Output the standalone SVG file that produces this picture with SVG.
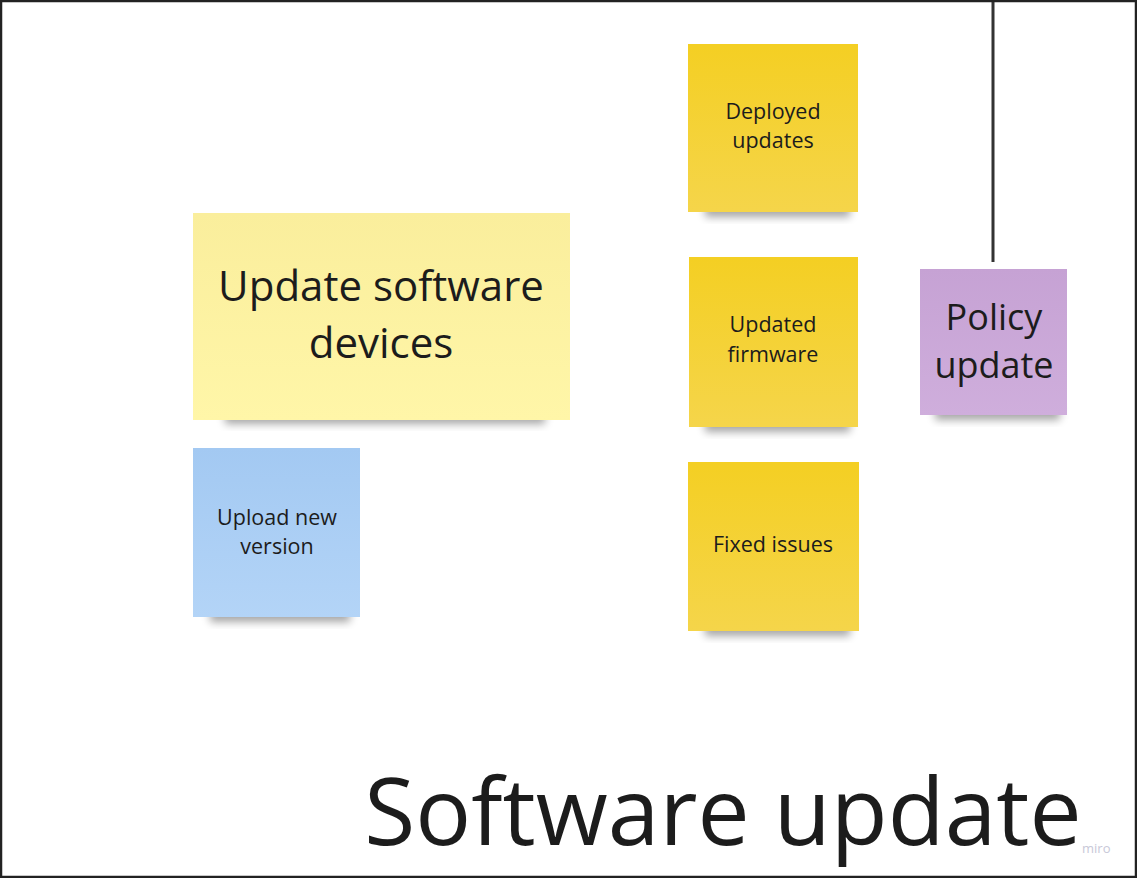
<svg xmlns="http://www.w3.org/2000/svg" width="1137" height="878" viewBox="0 0 1137 878">
<defs>
<filter id="sh" x="-20%" y="-50%" width="140%" height="200%"><feGaussianBlur stdDeviation="4"/></filter>
<linearGradient id="gy" x1="0" y1="0" x2="0" y2="1"><stop offset="0" stop-color="#F4CF23"/><stop offset="1" stop-color="#F5D54A"/></linearGradient>
<linearGradient id="gl" x1="0" y1="0" x2="0" y2="1"><stop offset="0" stop-color="#FAEE9C"/><stop offset="1" stop-color="#FFF6A8"/></linearGradient>
<linearGradient id="gb" x1="0" y1="0" x2="0" y2="1"><stop offset="0" stop-color="#A3C9F2"/><stop offset="1" stop-color="#B3D4F7"/></linearGradient>
<linearGradient id="gp" x1="0" y1="0" x2="0" y2="1"><stop offset="0" stop-color="#C6A2D4"/><stop offset="1" stop-color="#CFAEDC"/></linearGradient>
</defs>
<style>
.t{font-family:"Open Sans","Noto Sans","Liberation Sans",sans-serif;fill:#1c1c1c;text-anchor:middle}
.s{font-size:21.5px}
.shadow{fill:#000;opacity:0.35;filter:url(#sh)}
</style>
<rect x="0" y="0" width="1137" height="878" fill="#fff"/>
<g id="connectors">
<line x1="993" y1="0" x2="993" y2="262" stroke="#333" stroke-width="3"/>
</g>
<g id="n-update-software">
<rect class="shadow" x="225" y="410" width="320" height="14"/>
<rect x="193" y="213" width="377" height="207" fill="url(#gl)"/>
<text class="t" font-size="42" x="381" y="301">Update software</text>
<text class="t" font-size="42" x="381" y="358">devices</text>
</g>
<g id="n-upload">
<rect class="shadow" x="210" y="608" width="140" height="14"/>
<rect x="193" y="448" width="167" height="169" fill="url(#gb)"/>
<text class="t s" x="277" y="525">Upload new</text>
<text class="t s" x="277" y="554">version</text>
</g>
<g id="n-deployed">
<rect class="shadow" x="705" y="203" width="145" height="14"/>
<rect x="688" y="44" width="170" height="168" fill="url(#gy)"/>
<text class="t s" x="773" y="119">Deployed</text>
<text class="t s" x="773" y="148">updates</text>
</g>
<g id="n-firmware">
<rect class="shadow" x="705" y="418" width="145" height="14"/>
<rect x="689" y="257" width="169" height="170" fill="url(#gy)"/>
<text class="t s" x="773" y="332">Updated</text>
<text class="t s" x="773" y="362">firmware</text>
</g>
<g id="n-fixed">
<rect class="shadow" x="705" y="622" width="145" height="14"/>
<rect x="688" y="462" width="171" height="169" fill="url(#gy)"/>
<text class="t s" x="773" y="552">Fixed issues</text>
</g>
<g id="n-policy">
<rect class="shadow" x="935" y="406" width="125" height="14"/>
<rect x="920" y="269" width="147" height="146" fill="url(#gp)"/>
<text class="t" font-size="36" x="994" y="330">Policy</text>
<text class="t" font-size="36" x="994" y="378">update</text>
</g>
<g id="title">
<text class="t" font-size="93" x="723" y="845">Software update</text>
</g>
<text x="1082" y="853" font-family="'Open Sans',sans-serif" font-size="13" fill="#c8c8d8">miro</text>
<rect x="1" y="1" width="1135" height="876" fill="none" stroke="#222" stroke-width="2.5"/>
</svg>
